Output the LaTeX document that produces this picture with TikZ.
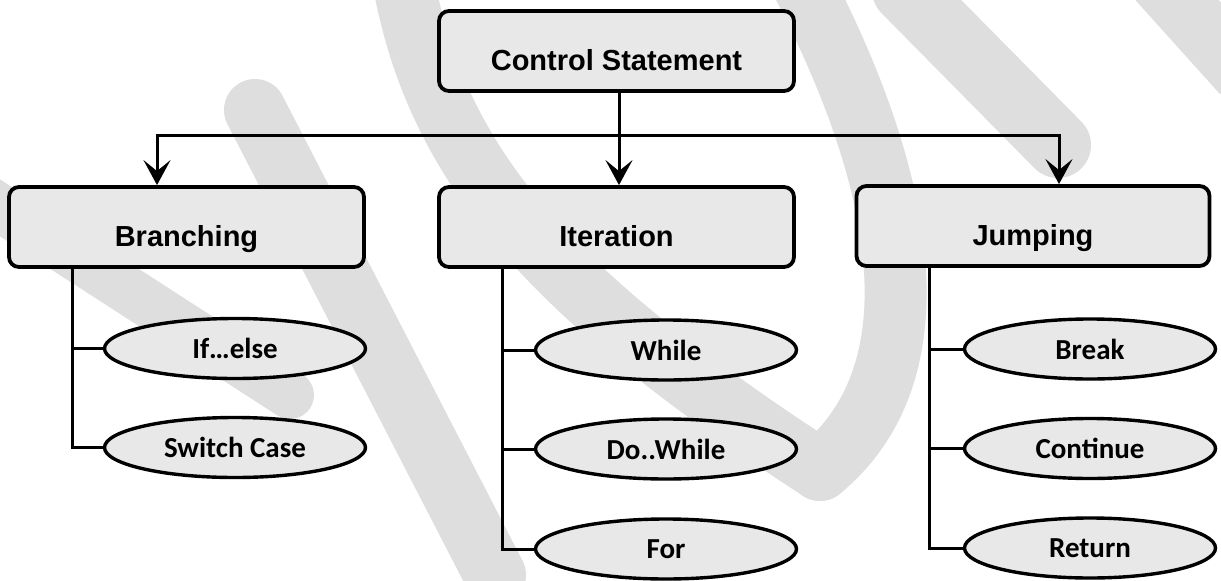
\documentclass[tikz,border=0pt]{standalone}
\usepackage{fontspec}
\setmainfont{Liberation Sans}
\newfontfamily\calibri{Carlito}
\usetikzlibrary{shapes.geometric,arrows.meta}
\definecolor{boxfill}{RGB}{232,232,232}
\definecolor{wmark}{RGB}{222,222,222}
\tikzset{
  topbox/.style={draw=black, line width=3.8pt, rounded corners=10pt, fill=boxfill,
    minimum width=355pt, minimum height=80pt, inner sep=0pt},
  boxlabel/.style={anchor=base, inner sep=0pt,
    font=\fontsize{29}{31}\selectfont\bfseries},
  leaf/.style={ellipse, draw=black, line width=3.4pt, fill=boxfill,
    minimum width=261pt, minimum height=60pt, inner sep=0pt,
    font=\calibri\fontsize{29}{31}\selectfont\bfseries},
  link/.style={line width=3pt},
  arrowlink/.style={line width=3pt, -{Stealth[length=25pt,width=27pt,inset=11pt]}},
  wm/.style={wmark, line width=62pt, line cap=round},
}
\begin{document}
\begin{tikzpicture}[x=1pt,y=-1pt]
\useasboundingbox (0,0) rectangle (1221,581);

% faint background logo strokes
\draw[wm] (255,110) -- (495,575);
\draw[wm, line width=48pt] (-20,195) -- (290,395);
\draw[wm] (400,-40) .. controls (430,170) and (560,300) .. (820,470);
\draw[wm] (790,-40) .. controls (920,200) and (930,380) .. (820,470);
\draw[wm, line width=66pt] (905,-10) -- (1058,145);
\draw[wm] (1150,-30) -- (1240,70);

% root
\node[topbox] (cs) at (616.5,51) {};
\node[boxlabel] (cst) at ([yshift=-19pt]cs.center) {Control Statement};

% second level
\node[topbox] (br) at (186.5,227) {};
\node[boxlabel] (brt) at ([yshift=-19pt]br.center) {Branching};
\node[topbox] (it) at (616.5,227) {};
\node[boxlabel] (itt) at ([yshift=-19pt]it.center) {Iteration};
\node[topbox, minimum width=353pt] (jm) at (1033,226) {};
\node[boxlabel] (jmt) at ([yshift=-19pt]jm.center) {Jumping};

% leaves
\node[leaf] (ife) at (235,348.5) {If…else};
\node[leaf] (sw)  at (235,447.5) {Switch Case};
\node[leaf] (wh)  at (666,350) {While};
\node[leaf] (dw)  at (666,449) {Do..While};
\node[leaf] (fo)  at (666,549) {For};
\node[leaf, minimum width=251pt] (bk) at (1090,349) {Break};
\node[leaf, minimum width=251pt] (co) at (1090,448.5) {Continue};
\node[leaf, minimum width=251pt] (re) at (1090,548) {Return};

% distribution bar under the root
\coordinate (hub) at (619,135);
\coordinate (lft) at (157,135);
\coordinate (rgt) at (1059,135);
\draw[link] (hub |- cs.south) -- (hub);
\draw[link, line cap=rect] (lft) -- (rgt);
\draw[arrowlink] (lft) -- (lft |- br.north);
\draw[arrowlink] (hub) -- (hub |- it.north);
\draw[arrowlink] (rgt) -- (rgt |- jm.north);

% spines to the leaves
\coordinate (bsp) at (72,0);
\coordinate (isp) at (502,0);
\coordinate (jsp) at (929,0);
\draw[link] (bsp |- br.south) |- (sw.west);
\draw[link] (bsp |- ife.west) -- (ife.west);
\draw[link] (isp |- it.south) |- (fo.west);
\draw[link] (isp |- wh.west) -- (wh.west);
\draw[link] (isp |- dw.west) -- (dw.west);
\draw[link] (jsp |- jm.south) |- (re.west);
\draw[link] (jsp |- bk.west) -- (bk.west);
\draw[link] (jsp |- co.west) -- (co.west);
\end{tikzpicture}
\end{document}
